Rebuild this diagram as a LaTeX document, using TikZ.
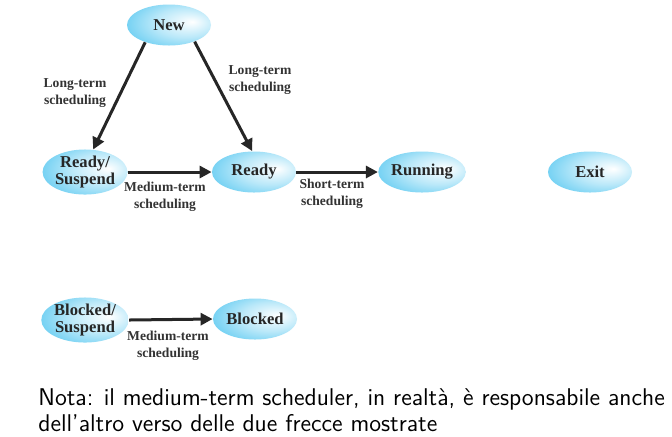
\documentclass[tikz,border=0pt]{standalone}
\usepackage{fontspec}
\newfontfamily\statefont{Liberation Serif}
\usetikzlibrary{shapes.geometric,arrows.meta}
\definecolor{statecyan}{RGB}{58,190,238}
\pgfdeclareradialshading{stateshade}{\pgfpoint{14bp}{4bp}}{%
  color(0bp)=(white); color(18bp)=(statecyan!35); color(40bp)=(statecyan!90); color(60bp)=(statecyan)}
\tikzset{
  state/.style={ellipse,shading=stateshade,minimum width=42pt,minimum height=20.5pt,inner sep=0pt,
    font=\statefont\bfseries\fontsize{8.3}{8.4}\selectfont,text=black!85,align=center},
  sched/.style={font=\statefont\bfseries\fontsize{6.8}{8.5}\selectfont,text=black!80,align=center},
  trans/.style={line width=1.5pt,black!85,-{Triangle[length=6pt,width=6pt]}}
}
\begin{document}
\begin{tikzpicture}[x=0.5pt,y=-0.5pt]
\useasboundingbox[fill=white](0,0) rectangle (672,436);
% states
\node[state] (new) at (169,25) {New};
\node[state] (rsusp) at (85,172) {Ready/\\Suspend};
\node[state] (ready) at (254,172) {Ready};
\node[state] (running) at (422,172) {Running};
\node[state] (exit) at (590,172) {Exit};
\node[state] (bsusp) at (85,320) {Blocked/\\Suspend};
\node[state] (blocked) at (255,319) {Blocked};
% transitions
\draw[trans](new.216)--(rsusp.70);
\draw[trans](new.327)--(ready.95);
\draw[trans](rsusp.east)--(ready.west);
\draw[trans](ready.east)--(running.west);
\draw[trans](bsusp.east)--(blocked.west);
% labels
\node[sched] (ltleft) at (75,93) {Long-term\\scheduling};
\node[sched] (ltright) at (260,80) {Long-term\\scheduling};
\node[sched] (mtready) at (165,197) {Medium-term\\scheduling};
\node[sched] (stready) at (332,194) {Short-term\\scheduling};
\node[sched] (mtblocked) at (168,346) {Medium-term\\scheduling};
% note
\node[anchor=north west,inner sep=0pt,align=left,font=\sffamily\fontsize{12.1}{13.3}\selectfont] (nota) at (38,388)
  {Nota: il medium-term scheduler, in realtà, è responsabile anche\\dell'altro verso delle due frecce mostrate};
\end{tikzpicture}
\end{document}
